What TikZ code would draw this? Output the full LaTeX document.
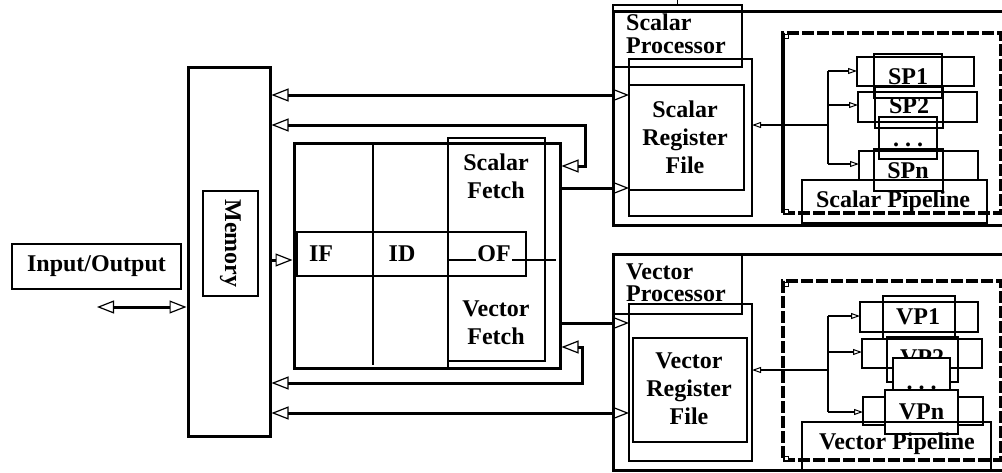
\documentclass[tikz,border=0pt]{standalone}
\usepackage{fontspec}
\setmainfont{Liberation Serif}
\usetikzlibrary{arrows.meta}
\begin{document}
\begin{tikzpicture}[x=1pt,y=-1pt,
  tl/.style={line width=1.2pt},
  bx/.style={draw, line width=1.2pt, inner sep=0pt, outer sep=0pt},
  tbx/.style={draw, line width=3pt, inner sep=0pt},
  lbl/.style={font=\bfseries\fontsize{24}{28}\selectfont, align=center, inner sep=0pt},
  plbl/.style={font=\bfseries\fontsize{24}{22.5}\selectfont, align=left, inner sep=0pt, anchor=west},
  conn/.style={line width=3pt, >={Triangle[open,length=17pt,width=13pt,line width=1.2pt]}},
  sconn/.style={line width=1.2pt, >={Triangle[open,length=9pt,width=6pt,line width=1pt]}},
  dsh/.style={draw, line width=3.5pt, dash pattern=on 12pt off 3pt, inner sep=0pt, outer sep=0pt},
  hdl/.style={draw, line width=0.8pt, minimum size=4pt, inner sep=0pt, fill=white},
]
\fill[white] (0,0) rectangle (1002,472);
\useasboundingbox (0,0) rectangle (1002,472);
\clip (0,0) rectangle (1002,472);

% Input/Output and memory
\node[bx, lbl, minimum width=169pt, minimum height=45pt] (io) at (96.5,266.5) {Input/Output};
\node[tbx, minimum width=82pt, minimum height=369pt] (mem) at (229,251.5) {};
\node[bx, minimum width=55pt, minimum height=105pt] (memlbl) at (230.5,243.5) {};
\node[lbl, rotate=-90] (memt) at (memlbl.center) {Memory};

% instruction pipeline
\node[tbx, minimum width=266pt, minimum height=225pt] (pipe) at (427,255.5) {};
\draw[tl] (373,143) -- (373,365);
\draw[tl] (448,143) -- (448,368);
\node[bx, minimum width=229pt, minimum height=44pt] (band) at (411.5,254) {};
\node[bx, minimum width=97pt, minimum height=223pt] (fetch) at (496.5,249.5) {};
\draw[tl] (448,260) -- (556,260);
\node[lbl, fill=white, inner sep=1pt] (of) at (494,254) {OF};
\node[lbl] (if) at (321,254) {IF};
\node[lbl] (id) at (402,254) {ID};
\node[lbl] (sf) at (496,176) {Scalar\\Fetch};
\node[lbl] (vf) at (496,323) {Vector\\Fetch};

% scalar processor
\node[tbx, minimum width=407pt, minimum height=214pt] (sproc) at (816.5,118) {};
\node[bx, minimum width=129pt, minimum height=62pt] (sproclbl) at (677.5,36) {};
\coordinate (tick) at (677.5,-3);
\draw[tl] (sproclbl.north) -- (tick);
\node[plbl] (spt) at (626,34) {Scalar\\Processor};
\node[bx, minimum width=123pt, minimum height=157pt] (sregout) at (690.5,137.5) {};
\node[bx, minimum width=115pt, minimum height=105pt] (sregin) at (686.5,137.5) {};
\node[lbl] (srt) at (685,137) {Scalar\\Register\\File};
\node[dsh, minimum width=218pt, minimum height=180pt] (sdash) at (892,123) {};
\draw[line width=3.5pt] (sdash.north west) -- (sdash.south west);
\node[hdl] (sh1) at (786,36) {};
\node[hdl] (sh2) at (786,211) {};
\node[bx, minimum width=117pt, minimum height=29pt] (sp1w) at (915.5,71.5) {};
\node[bx, minimum width=68pt, minimum height=44pt] (sp1n) at (908,76) {};
\node[lbl] (sp1t) at (908,77) {SP1};
\node[bx, minimum width=119pt, minimum height=30pt] (sp2w) at (917.5,107) {};
\node[bx, minimum width=68pt, minimum height=41pt] (sp2n) at (909,107.5) {};
\node[lbl] (sp2t) at (909,106) {SP2};
\node[bx, minimum width=58pt, minimum height=42pt] (spd) at (908,138) {};
\node[lbl] (spdt) at (908,145) {.\hspace{6pt}.\hspace{6pt}.};
\node[bx, minimum width=119pt, minimum height=29pt] (spnw) at (918.5,165.5) {};
\node[bx, minimum width=69pt, minimum height=42pt] (spnn) at (908.5,170) {};
\node[lbl] (spnt) at (908,171) {SPn};
\node[bx, minimum width=185pt, minimum height=43pt] (spipe) at (894.5,201.5) {};
\node[lbl] (spipet) at (893,202) {Scalar Pipeline};

% vector processor
\node[tbx, minimum width=407pt, minimum height=216pt] (vproc) at (816.5,362) {};
\node[bx, minimum width=129pt, minimum height=60pt] (vproclbl) at (677.5,284) {};
\node[plbl] (vpt) at (626,283) {Vector\\Processor};
\node[bx, minimum width=123pt, minimum height=157pt] (vregout) at (690.5,382.5) {};
\node[bx, minimum width=114pt, minimum height=104pt] (vregin) at (690,390) {};
\node[lbl] (vrt) at (689,389) {Vector\\Register\\File};
\node[dsh, minimum width=218pt, minimum height=179pt] (vdash) at (892,370.5) {};
\node[hdl] (vh1) at (786,284) {};
\node[hdl] (vh2) at (786,458) {};
\node[bx, minimum width=118pt, minimum height=30pt] (vp1w) at (919,317) {};
\node[bx, minimum width=72pt, minimum height=43pt] (vp1n) at (919,317.5) {};
\node[lbl] (vp1t) at (918,317) {VP1};
\node[bx, minimum width=120pt, minimum height=29pt] (vp2w) at (922,353.5) {};
\node[bx, minimum width=71pt, minimum height=45pt] (vp2n) at (922.5,359.5) {};
\node[lbl] (vp2t) at (922,358) {VP2};
\node[bx, fill=white, minimum width=57pt, minimum height=45pt] (vpd) at (921.5,380.5) {};
\node[lbl] (vpdt) at (921.5,388) {.\hspace{6pt}.\hspace{6pt}.};
\node[bx, minimum width=120pt, minimum height=28pt] (vpnw) at (923,411) {};
\node[bx, fill=white, minimum width=73pt, minimum height=44pt] (vpnn) at (921.5,412) {};
\node[lbl] (vpnt) at (921.5,412) {VPn};
\node[bx, minimum width=189pt, minimum height=48pt] (vpipe) at (896.5,446) {};
\node[lbl] (vpipet) at (897,444) {Vector Pipeline};

% connector levels
\coordinate (y95) at (0,95);
\coordinate (y125) at (0,125);
\coordinate (y166) at (0,166);
\coordinate (y188) at (0,188);
\coordinate (y260) at (0,260);
\coordinate (y323) at (0,323);
\coordinate (y347) at (0,347);
\coordinate (y383) at (0,383);
\coordinate (y413) at (0,413);
\coordinate (iol) at (97,307);

\draw[conn,<->] (mem.east |- y95) -- (sregout.west |- y95);
\draw[conn,<->] (mem.east |- y125) -- (585,125) -- (585,166) -- (pipe.east |- y166);
\draw[conn,->] (pipe.east |- y188) -- (sregout.west |- y188);
\draw[conn,->] (mem.east |- y260) -- (pipe.west |- y260);
\draw[conn,->] (pipe.east |- y323) -- (vregout.west |- y323);
\draw[conn,<->] (mem.east |- y383) -- (582,383) -- (582,347) -- (pipe.east |- y347);
\draw[conn,<->] (mem.east |- y413) -- (vregout.west |- y413);
\draw[conn,<->] (iol) -- (mem.west |- iol);

% scalar pipeline fan-out
\coordinate (sbr) at (828,125);
\coordinate (sb1) at (828,71);
\coordinate (sb2) at (828,105);
\coordinate (sb3) at (828,164);
\draw[sconn,<-] (sregout.east |- sbr) -- (sbr);
\draw[tl] (sb1) -- (sb3);
\draw[sconn,->] (sb1) -- (sp1w.west |- sb1);
\draw[sconn,->] (sb2) -- (sp2w.west |- sb2);
\draw[sconn,->] (sb3) -- (spnw.west |- sb3);

% vector pipeline fan-out
\coordinate (vbr) at (828,370);
\coordinate (vb1) at (828,316);
\coordinate (vb2) at (828,352);
\coordinate (vb3) at (828,412);
\draw[sconn,<-] (vregout.east |- vbr) -- (vbr);
\draw[tl] (vb1) -- (vb3);
\draw[sconn,->] (vb1) -- (vp1w.west |- vb1);
\draw[sconn,->] (vb2) -- (vp2w.west |- vb2);
\draw[sconn,->] (vb3) -- (vpnw.west |- vb3);
\end{tikzpicture}
\end{document}
